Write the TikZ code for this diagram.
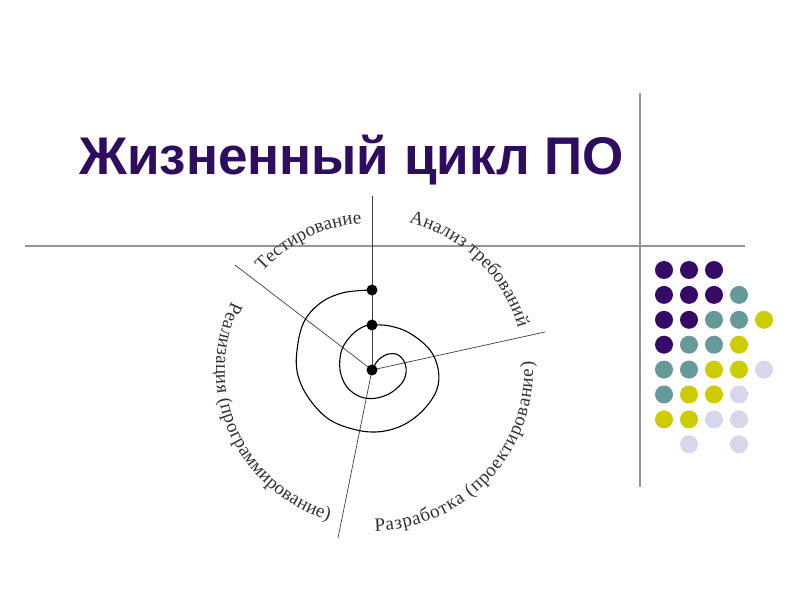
\documentclass[tikz,border=0pt]{standalone}
\usepackage{fontspec}
\setmainfont{Liberation Serif}
\newfontfamily\titlefont{Liberation Sans}
\usetikzlibrary{decorations.text,calc}
\definecolor{titlepurple}{RGB}{46,12,94}
\definecolor{guidegray}{RGB}{150,150,150}
\definecolor{dpurple}{RGB}{52,10,102}
\definecolor{dteal}{RGB}{102,153,153}
\definecolor{dyellow}{RGB}{204,204,0}
\definecolor{dlav}{RGB}{215,215,235}
\newcommand\lblfont{\fontsize{19}{21}\selectfont}
\begin{document}
\begin{tikzpicture}[x=1pt,y=1pt,
  guide/.style={draw=guidegray,line width=2pt},
  ray/.style={draw=black!75,line width=0.7pt},
  spiralline/.style={draw=black,line width=1.1pt},
  bead/.style={circle,fill=black,inner sep=0pt,minimum size=11pt},
  gdot/.style={circle,inner sep=0pt,minimum size=18pt},
  arclabel/.style={decorate,decoration={text along path,text align={fit to path},text color=black!80,text={#1}}}
]
\useasboundingbox (0,0) rectangle (800,600);
\fill[white] (0,0) rectangle (800,600);

% guide lines
\coordinate (vt) at (640,507);
\coordinate (vb) at (640,113);
\coordinate (hl) at (25,354);
\coordinate (hr) at (745,354);
\draw[guide] (vt) -- (vb);
\draw[guide] (hl) -- (hr);

% title
\node[anchor=base west,inner sep=0pt,text=titlepurple,
      font=\titlefont\bfseries\fontsize{53}{60}\selectfont] (title) at (79,425) {Жизненный цикл ПО};

% spiral diagram
\coordinate (o) at (372,230);
\coordinate (rtop) at (372,404);
\coordinate (rul) at (235,335);
\coordinate (rr) at (545,268);
\coordinate (rb) at (338,62);
\draw[ray] (o) -- (rtop);
\draw[ray] (o) -- (rul);
\draw[ray] (o) -- (rr);
\draw[ray] (o) -- (rb);

\draw[spiralline] plot[smooth,tension=0.6] coordinates {
 (372,230) (378.3,240) (388.3,246) (398.3,245) (405,236.7) (406,226.7)
 (401.7,216.7) (390,206.7) (375,201.7) (360,203.3) (346.7,213.3) (340,230)
 (341.7,250) (351.7,265) (363.3,273.3) (372,275) (390,274) (410,266.7)
 (430,250) (438.3,230) (436.7,210) (423.3,190) (403.3,175) (380,168.3)
 (356.7,170) (330,180) (310,200) (298.3,223.3) (296.7,246.7) (303.3,276.7)
 (320,296.7) (343.3,307.3) (372,310)};

\node[bead] (c) at (o) {};
\node[bead] (d2) at (372,275) {};
\node[bead] (d1) at (372,310) {};

% arc labels
\path[arclabel={|\lblfont|Тестирование}]
  ($(o)+(138:147pt)$) arc[start angle=138,end angle=94,radius=147pt];
\path[arclabel={|\lblfont|Анализ требований}]
  ($(o)+(76:152pt)$) arc[start angle=76,end angle=16,radius=152pt];
\path[arclabel={|\lblfont|Разработка (проектирование)}]
  ($(o)+(-89:161pt)$) arc[start angle=-89,end angle=3,radius=161pt];
\path[arclabel={|\lblfont|Реализация (программирование)}]
  ($(o)+(154:156pt)$) arc[start angle=154,end angle=254,radius=156pt];

% dot grid
\foreach \row/\col/\clr in {
  1/1/dpurple,1/2/dpurple,1/3/dpurple,
  2/1/dpurple,2/2/dpurple,2/3/dpurple,2/4/dteal,
  3/1/dpurple,3/2/dpurple,3/3/dteal,3/4/dteal,3/5/dyellow,
  4/1/dpurple,4/2/dteal,4/3/dteal,4/4/dyellow,
  5/1/dteal,5/2/dteal,5/3/dyellow,5/4/dyellow,5/5/dlav,
  6/1/dteal,6/2/dyellow,6/3/dyellow,6/4/dlav,
  7/1/dyellow,7/2/dyellow,7/3/dlav,7/4/dlav,
  8/2/dlav,8/4/dlav}
  \node[gdot,fill=\clr] (g\row-\col) at ({664+25*(\col-1)},{330-24.9*(\row-1)}) {};
\end{tikzpicture}
\end{document}
